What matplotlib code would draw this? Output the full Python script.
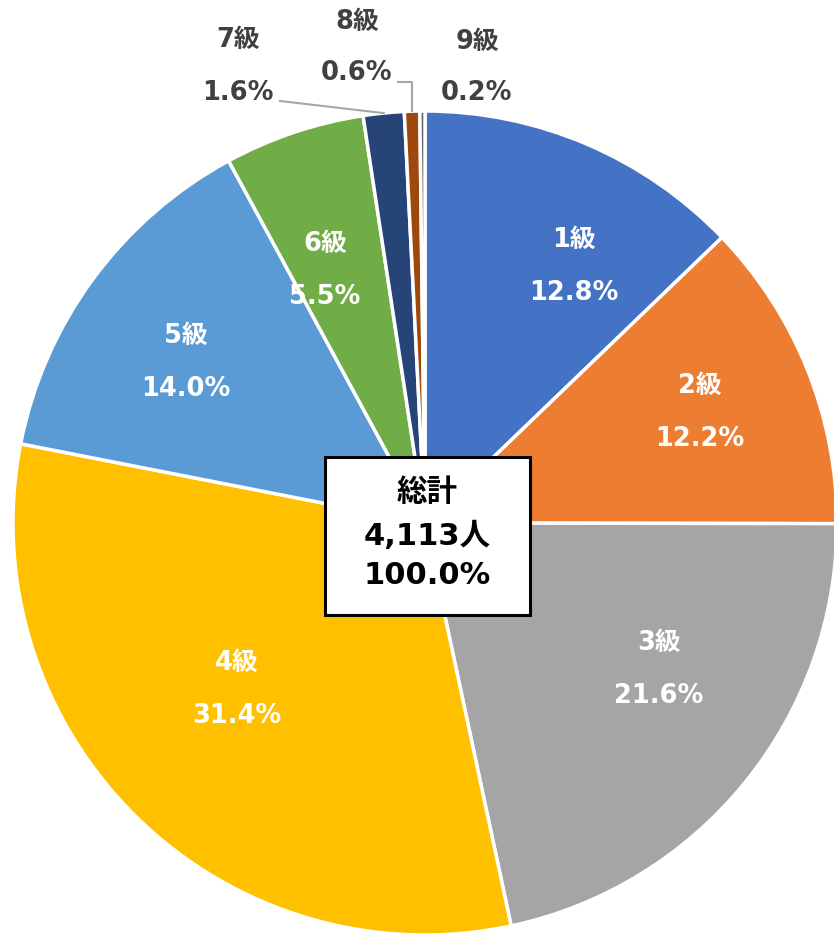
import numpy as np
import matplotlib
matplotlib.use('Agg')
from matplotlib import pyplot as plt
from matplotlib.patches import Rectangle

plt.rcParams['font.family'] = ['DejaVu Sans', 'Noto Sans CJK JP']

grades = ['1級', '2級', '3級', '4級', '5級', '6級', '7級', '8級', '9級']
shares = [12.8, 12.2, 21.6, 31.4, 14.0, 5.5, 1.6, 0.6, 0.2]
colors = ['#4472C4', '#ED7D31', '#A5A5A5', '#FFC000', '#5B9BD5',
          '#70AD47', '#264478', '#9E480E', '#636363']
total_label = ['総計', '4,113人', '100.0%']

W, H = 834, 934
cx, cy, R = 425, H - 523, 412

fig = plt.figure(figsize=(W / 100, H / 100), dpi=100)
ax = fig.add_axes([0, 0, 1, 1])
wedges, _ = ax.pie(shares, colors=colors, startangle=90, counterclock=False,
                   center=(cx, cy), radius=R,
                   wedgeprops=dict(edgecolor='white', linewidth=2.5))
ax.set_xlim(0, W)
ax.set_ylim(0, H)
ax.set_aspect('equal')
ax.axis('off')

# inside labels for the big slices (radius fraction, angle nudge in degrees)
lab_r = [0.72, 0.72, 0.67, 0.61, 0.70, 0.66]
lab_da = [7, 0, -7, 4, -2.5, -3]

tot = sum(shares)
start = 0.0
mids = []
for s in shares:
    mids.append((start + s / 2) / tot * 360)
    start += s

for i in range(6):
    a = np.deg2rad(mids[i] + lab_da[i])
    x = cx + lab_r[i] * R * np.sin(a)
    y = cy + lab_r[i] * R * np.cos(a)
    ax.text(x, y + 26.5, grades[i], color='white', fontsize=18.5, fontweight='bold',
            ha='center', va='center')
    ax.text(x, y - 26.5, f'{shares[i]:.1f}%', color='white', fontsize=18.5,
            fontweight='bold', ha='center', va='center')

# outside labels for the small slices
outside = {6: (238, 40, 93), 7: (357, 22, 73), 8: (477, 42, 93)}
for i, (tx, ty1, ty2) in outside.items():
    ax.text(tx, H - ty1, grades[i], color='#404040', fontsize=18.5, fontweight='bold',
            ha='center', va='center')
    ax.text(tx, H - ty2, f'{shares[i]:.1f}%', color='#404040', fontsize=18.5,
            fontweight='bold', ha='center', va='center')

# leader lines
a7 = np.deg2rad(mids[6])
ax.plot([280, cx + R * np.sin(a7)], [H - 101, cy + R * np.cos(a7)],
        color='#A6A6A6', lw=1.5)
a8 = np.deg2rad(mids[7])
ex8 = cx + R * np.sin(a8)
ax.plot([398, ex8, ex8], [H - 82, H - 82, cy + R * np.cos(a8)],
        color='#A6A6A6', lw=1.5)

# total box in the centre
ax.add_patch(Rectangle((325, H - 615), 205, 158, facecolor='white',
                       edgecolor='black', linewidth=2.2, zorder=5))
for txt, py in zip(total_label, [492, 536, 575]):
    ax.text(427, H - py, txt, color='black', fontsize=22, fontweight='bold',
            ha='center', va='center', zorder=6)

fig.savefig('out.png', dpi=100)
